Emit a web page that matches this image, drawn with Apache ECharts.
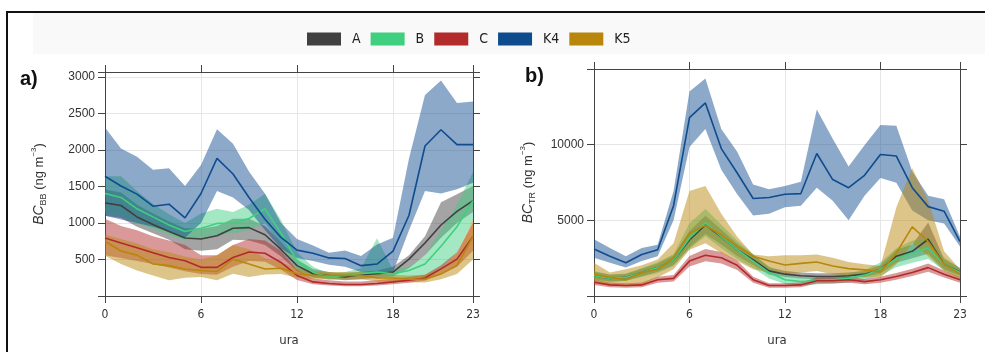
<!DOCTYPE html>
<html>
<head>
<meta charset="utf-8">
<script src="https://cdn.jsdelivr.net/npm/echarts@6/dist/echarts.min.js"></script>
<style>
  html, body { margin: 0; padding: 0; background: #fff; }
  #chart { width: 985px; height: 352px; }
</style>
</head>
<body>
<div id="chart"></div>
<script>
var hours = [];
for (var h = 0; h < 24; h++) hours.push(String(h));

var groups = ['A', 'B', 'C', 'K4', 'K5'];
var colors = ['#404040', '#3ecf7f', '#b22a2a', '#0f4c8e', '#b8860b'];

// a) BC_BB, ng m-3
var bbA = [1276,1240,1084,981,883,794,781,825,928,937,839,638,416,304,282,260,291,304,327,505,727,973,1160,1307];
var bbA_lo = [1100,1070,950,860,770,640,620,640,770,760,700,540,340,250,235,215,230,250,270,380,560,800,1000,1150];
var bbA_hi = [1460,1420,1250,1130,1020,930,920,960,1060,1060,960,740,500,370,330,310,330,350,400,560,820,1285,1396,1508];

var bbB = [1405,1351,1195,1084,973,884,928,995,1000,1062,1195,860,480,327,260,282,304,327,305,349,438,683,950,1307];
var bbB_lo = [1130,1100,1000,920,840,760,790,840,860,900,1000,700,380,270,220,240,260,280,250,240,260,372,594,1040];
var bbB_hi = [1640,1640,1440,1260,1120,1000,1130,1195,1150,1250,1400,1040,600,400,310,330,380,790,360,400,560,900,1250,1700];

var bbC = [794,727,660,594,527,482,393,393,527,603,585,460,282,193,171,158,158,171,193,216,247,372,505,817];
var bbC_lo = [560,520,480,440,390,340,300,290,400,480,470,360,220,160,145,135,135,145,160,180,210,300,400,620];
var bbC_hi = [1060,960,900,820,760,700,560,560,700,780,760,620,360,240,215,200,200,215,240,260,290,420,600,1000];

var bbK4 = [1641,1507,1396,1231,1258,1071,1405,1886,1672,1351,1053,803,629,585,522,513,416,438,616,1107,2056,2278,2074,2074];
var bbK4_lo = [1100,1050,1000,950,880,800,1000,1440,1350,1180,900,650,520,480,430,400,330,300,327,900,1440,1405,1463,1552];
var bbK4_hi = [2309,2020,1908,1730,1752,1507,1797,2287,2087,1708,1400,1000,780,692,594,625,549,705,800,1886,2755,2955,2645,2667];

var bbK5 = [750,616,560,438,416,371,349,336,505,438,371,380,304,282,282,282,282,247,247,229,229,300,420,817];
var bbK5_lo = [550,438,349,282,215,250,260,215,304,260,295,300,250,230,230,230,230,200,200,190,185,230,300,500];
var bbK5_hi = [840,780,720,640,600,540,500,560,700,640,520,460,380,340,330,330,330,300,290,280,290,380,580,1050];

// b) BC_TR, ng m-3
var trA = [1336,1164,1228,1551,1875,2371,3700,4700,3900,3060,2400,1659,1443,1336,1293,1293,1336,1443,1767,2630,2952,3750,2091,1595];
var trA_lo = [1100,950,1000,1300,1600,2050,3200,4100,3400,2650,2050,1400,1250,1150,1100,1100,1150,1250,1500,2200,2500,2800,1750,1350];
var trA_hi = [1600,1400,1450,1800,2150,2700,4300,5300,4400,3450,2750,1900,1650,1550,1500,1500,1550,1650,2050,3050,3400,4850,2450,1850];

var trB = [1336,1164,1228,1551,1875,2371,3815,4828,3922,3060,2307,1551,1077,948,1012,1077,1164,1379,1767,2457,2845,3169,2091,1551];
var trB_lo = [1050,930,1000,1250,1520,1970,3100,3950,3150,2450,1850,1150,800,700,770,830,900,1050,1350,1900,2200,2450,1700,1250];
var trB_hi = [1650,1420,1480,1850,2230,2780,4800,5750,4720,3650,2760,1950,1380,1200,1260,1330,1460,1730,2220,3150,3650,3900,2550,1850];

var trC = [905,733,690,733,1077,1164,2307,2695,2522,2026,1077,690,690,733,1012,1012,1077,948,1077,1293,1551,1875,1443,1077];
var trC_lo = [720,570,540,580,880,960,1950,2300,2150,1720,880,540,540,580,820,820,880,780,880,1080,1320,1600,1220,880];
var trC_hi = [1100,900,850,900,1280,1380,2650,3100,2900,2350,1280,850,850,900,1220,1220,1280,1130,1280,1520,1800,2150,1680,1280];

var trK4 = [3104,2630,2199,2738,3061,5970,11789,12758,9741,8125,6444,6509,6724,6768,9418,7694,7155,7974,9354,9246,7155,5906,5604,3600];
var trK4_lo = [2522,2199,1876,2307,2630,5000,9849,11034,8341,6724,5323,5431,5862,5970,7155,6293,5000,6617,7802,7479,5647,5000,4785,3276];
var trK4_hi = [3750,3169,2630,3169,3384,6940,13513,14375,11034,9526,7371,7048,7263,7543,12327,10388,8556,9957,11293,11250,8233,6617,6401,3922];

var trK5 = [1443,1228,1077,1551,1767,2522,4138,4677,4030,3276,2630,2307,2048,2156,2242,1983,1811,1724,1595,2845,4569,3600,2091,1443];
var trK5_lo = [905,690,690,733,1228,1767,3061,3491,2845,2307,1767,1551,1443,1551,1659,1443,1336,1228,1228,2091,3491,2630,1659,1120];
var trK5_hi = [2199,1551,1767,2026,2414,3491,6940,7263,5431,3922,2738,2630,2694,2694,2738,2522,2242,2091,1983,5862,8449,6293,2952,1767];

var panelA = {mean: [bbA, bbB, bbC, bbK4, bbK5], lo: [bbA_lo, bbB_lo, bbC_lo, bbK4_lo, bbK5_lo], hi: [bbA_hi, bbB_hi, bbC_hi, bbK4_hi, bbK5_hi]};
var panelB = {mean: [trA, trB, trC, trK4, trK5], lo: [trA_lo, trB_lo, trC_lo, trK4_lo, trK5_lo], hi: [trA_hi, trB_hi, trC_hi, trK4_hi, trK5_hi]};

var narrow = "'DejaVu Sans Condensed', 'Liberation Sans', sans-serif";

var series = [];
function addPanel(p, ax, tag) {
  // bands first so the lines sit on top
  groups.forEach(function (g, i) {
    var lo = p.lo[i], hi = p.hi[i];
    series.push({
      name: g + '_lo_' + tag, type: 'line', xAxisIndex: ax, yAxisIndex: ax,
      stack: tag + g, data: lo, symbol: 'none', silent: true,
      lineStyle: {opacity: 0}
    });
    series.push({
      name: g + '_band_' + tag, type: 'line', xAxisIndex: ax, yAxisIndex: ax,
      stack: tag + g, data: hi.map(function (v, k) { return v - lo[k]; }),
      symbol: 'none', silent: true,
      lineStyle: {opacity: 0},
      areaStyle: {color: colors[i], opacity: 0.48}
    });
  });
  groups.forEach(function (g, i) {
    series.push({
      name: g, type: 'line', xAxisIndex: ax, yAxisIndex: ax,
      data: p.mean[i], symbol: 'none', color: colors[i],
      lineStyle: {width: 1.6, color: colors[i]}
    });
  });
}
addPanel(panelA, 0, 'a');
addPanel(panelB, 2, 'b');

function tickAt(idx) { return idx % 6 === 0 || idx === 23; }
function gridAt(idx) { return idx % 6 === 0 && idx > 0 && idx < 23; }

var axisLine = {onZero: false, lineStyle: {color: '#444', width: 1}};

function xBottom(gi) {
  return {
    type: 'category', gridIndex: gi, data: hours, boundaryGap: false,
    axisLine: axisLine, axisTick: {show: true, interval: tickAt, length: 7, lineStyle: {color: '#444'}},
    axisLabel: {interval: tickAt, margin: 13, color: '#333', fontSize: 12, fontFamily: narrow},
    splitLine: {show: true, interval: gridAt, lineStyle: {color: '#e6e6e6'}},
    name: 'ura', nameLocation: 'middle', nameGap: 38,
    nameTextStyle: {color: '#333', fontSize: 13, fontFamily: narrow}
  };
}
function xTop(gi) {
  return {
    type: 'category', gridIndex: gi, data: hours, boundaryGap: false, position: 'top',
    axisLine: axisLine, axisTick: {show: true, interval: tickAt, length: 7, lineStyle: {color: '#444'}},
    axisLabel: {show: false}, splitLine: {show: false}
  };
}

var nameRich = {
  i: {fontStyle: 'italic', fontSize: 14, color: '#333', lineHeight: 18},
  n: {fontSize: 13, color: '#333', lineHeight: 18},
  s: {fontSize: 9, color: '#333', lineHeight: 9, verticalAlign: 'bottom'},
  p: {fontSize: 8, color: '#333', lineHeight: 8, verticalAlign: 'top'}
};

function yLeft(gi, min, max, step, sub, gap) {
  return {
    type: 'value', gridIndex: gi, min: min, max: max, interval: step,
    axisLine: {show: true, onZero: false, lineStyle: {color: '#444'}},
    axisTick: {show: true, length: 7, lineStyle: {color: '#444'}},
    axisLabel: {
      margin: 10, color: '#333', fontSize: 12, fontFamily: 'Liberation Sans',
      formatter: function (v) { return (v > 0 && v < max && v % step === 0) ? String(v) : ''; }
    },
    splitLine: {show: true, lineStyle: {color: '#e6e6e6'}},
    name: '{i|BC}{s|' + sub + '}{n| (ng m}{p|−3}{n|)}',
    nameLocation: 'middle', nameGap: gap,
    nameTextStyle: {fontFamily: 'Liberation Sans', rich: nameRich}
  };
}
function yRight(gi, min, max, step) {
  return {
    type: 'value', gridIndex: gi, min: min, max: max, interval: step, position: 'right',
    axisLine: {show: true, onZero: false, lineStyle: {color: '#444'}},
    axisTick: {show: true, length: 7, lineStyle: {color: '#444'}},
    axisLabel: {show: false}, splitLine: {show: false}
  };
}

var chart = echarts.init(document.getElementById('chart'));

var option = {
  animation: false,
  backgroundColor: '#fff',
  graphic: [
    {type: 'rect', z: -10, shape: {x: 33, y: 13, width: 960, height: 41}, style: {fill: '#f9f9f9'}},
    {type: 'rect', z: 100, shape: {x: 7, y: 12, width: 1000, height: 360}, style: {fill: 'none', stroke: '#111', lineWidth: 2}},
    {type: 'text', left: 20, top: 69, style: {text: 'a)', fontSize: 20, fontWeight: 'bold', fill: '#111', fontFamily: 'Liberation Sans'}},
    {type: 'text', left: 525, top: 66, style: {text: 'b)', fontSize: 20, fontWeight: 'bold', fill: '#111', fontFamily: 'Liberation Sans'}}
  ],
  legend: {
    data: groups, left: 302, top: 27, icon: 'rect',
    itemWidth: 34, itemHeight: 13, itemGap: 10,
    textStyle: {fontSize: 14, color: '#222', fontFamily: narrow, width: 39, padding: [0, 0, 0, 6]}
  },
  grid: [
    {left: 105, right: 512, top: 72, bottom: 53},
    {left: 594, right: 25, top: 69, bottom: 53}
  ],
  xAxis: [xBottom(0), xTop(0), xBottom(1), xTop(1)],
  yAxis: [
    yLeft(0, 0, 3070, 500, 'BB', 57), yRight(0, 0, 3070, 500),
    yLeft(1, 0, 15000, 5000, 'TR', 57), yRight(1, 0, 15000, 5000)
  ],
  series: series
};

chart.setOption(option);
</script>
</body>
</html>
